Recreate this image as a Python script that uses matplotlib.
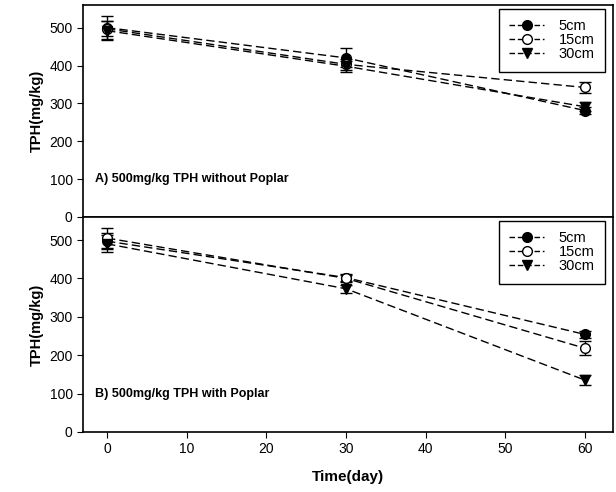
import numpy as np
import matplotlib.pyplot as plt
from matplotlib.lines import Line2D

plt.rcParams['font.family'] = ['Liberation Sans', 'DejaVu Sans']

days = [0, 30, 60]
labels = ['5cm', '15cm', '30cm']

# A) without poplar
a_mean = {'5cm': [500, 420, 281], '15cm': [497, 403, 342], '30cm': [492, 398, 291]}
a_err = {'5cm': [30, 25, 10], '15cm': [20, 15, 14], '30cm': [25, 15, 12]}
# B) with poplar
b_mean = {'5cm': [497, 402, 254], '15cm': [505, 400, 218], '30cm': [490, 373, 135]}
b_err = {'5cm': [20, 10, 10], '15cm': [25, 10, 18], '30cm': [22, 10, 13]}

panel_text = ['A) 500mg/kg TPH without Poplar', 'B) 500mg/kg TPH with Poplar']
styles = {'5cm': dict(marker='o', mfc='black', ms=7),
          '15cm': dict(marker='o', mfc='white', ms=7),
          '30cm': dict(marker='v', mfc='black', ms=6.5)}

fig = plt.figure(figsize=(6.16, 4.92), dpi=100)
ax1 = fig.add_axes([0.135, 0.559, 0.86, 0.431])
ax2 = fig.add_axes([0.135, 0.122, 0.86, 0.437])

for ax, mean, err, txt in [(ax1, a_mean, a_err, panel_text[0]),
                           (ax2, b_mean, b_err, panel_text[1])]:
    handles = []
    for lab in labels:
        ax.errorbar(days, mean[lab], yerr=err[lab], color='black', ls=(0, (6, 3)),
                    lw=1, mec='black', capsize=4, elinewidth=1, **styles[lab])
        handles.append(Line2D([], [], color='black', ls=(0, (4, 2)), lw=1,
                              mec='black', **styles[lab]))
    ax.set_xlim(-3, 63.5)
    ax.set_ylim(0, 560)
    ax.set_yticks([0, 100, 200, 300, 400, 500])
    ax.set_xticks([0, 10, 20, 30, 40, 50, 60])
    ax.tick_params(direction='out', labelsize=10, length=4)
    ax.set_ylabel('TPH(mg/kg)', fontsize=10.5, fontweight='bold')
    ax.text(-1.5, 100, txt, fontsize=9, fontweight='bold', va='center')
    leg = ax.legend(handles, labels, loc='upper right', fontsize=10.5, frameon=True,
                    fancybox=False, edgecolor='black', framealpha=1,
                    handlelength=2.4, handletextpad=1.0, borderpad=0.7,
                    labelspacing=0.0, borderaxespad=0,
                    bbox_to_anchor=(0.985, 0.98))
    leg.get_frame().set_linewidth(1)
    leg.set_zorder(5)
    for s in ax.spines.values():
        s.set_linewidth(1.2)

ax1.tick_params(axis='x', bottom=False, labelbottom=False)
ax2.set_xlabel('Time(day)', fontsize=11, fontweight='bold', labelpad=10)

plt.savefig('out.png', dpi=100)
